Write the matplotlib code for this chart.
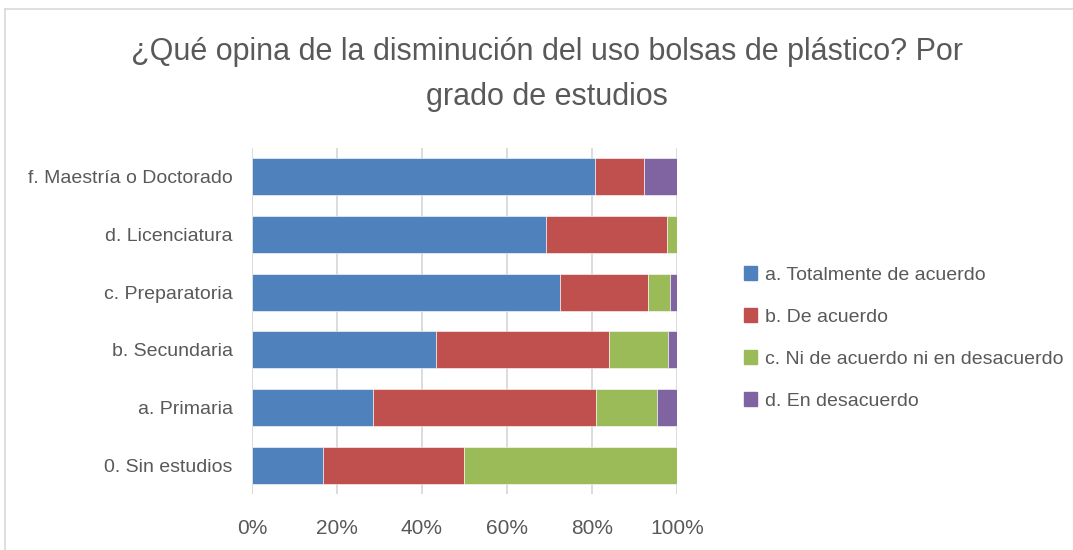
import matplotlib
matplotlib.use("Agg")
import matplotlib.pyplot as plt
from matplotlib.lines import Line2D

plt.rcParams["font.family"] = ["Liberation Sans Narrow", "Liberation Sans", "DejaVu Sans"]

# categories bottom to top, as drawn
categories = ["0. Sin estudios", "a. Primaria", "b. Secundaria",
              "c. Preparatoria", "d. Licenciatura", "f. Maestría o Doctorado"]

# percentages per answer, same order as categories
totalmente = [16.7, 28.5, 43.2, 72.4, 69.2, 80.8]
de_acuerdo = [33.3, 52.4, 40.9, 20.7, 28.4, 11.5]
ni_ni = [50.0, 14.5, 13.7, 5.3, 2.4, 0.0]
desacuerdo = [0.0, 4.6, 2.2, 1.6, 0.0, 7.7]

series_names = ["a. Totalmente de acuerdo", "b. De acuerdo",
                "c. Ni de acuerdo ni en desacuerdo", "d. En desacuerdo"]
colors = ["#4F81BD", "#C0504D", "#9BBB59", "#8064A2"]
text_color = "#595959"

fig = plt.figure(figsize=(10.73, 5.5), dpi=100)
ax = fig.add_axes([252 / 1073, 1 - 494 / 550, 425 / 1073, 346 / 550])

left = [0.0] * len(categories)
for name, vals, col in zip(series_names, [totalmente, de_acuerdo, ni_ni, desacuerdo], colors):
    ax.barh(categories, vals, left=left, height=0.64, color=col,
            edgecolor="white", linewidth=0.4, label=name, zorder=3)
    left = [a + b for a, b in zip(left, vals)]

ax.set_xlim(0, 100)
ax.set_ylim(-0.5, 5.5)
ax.set_xticks([0, 20, 40, 60, 80, 100])
ax.set_xticklabels(["0%", "20%", "40%", "60%", "80%", "100%"])
ax.grid(axis="x", color="#D9D9D9", linewidth=1.3, zorder=0)
for s in ax.spines.values():
    s.set_visible(False)
ax.tick_params(axis="both", length=0, colors=text_color, labelsize=14)
ax.tick_params(axis="x", pad=18, labelsize=15)
ax.tick_params(axis="y", pad=14)

handles = [plt.Rectangle((0, 0), 1, 1, color=c) for c in colors]
fig.legend(handles, series_names, loc="center left",
           bbox_to_anchor=(726 / 1073, 1 - 338 / 550), frameon=False,
           fontsize=14, labelcolor=text_color, handlelength=0.7,
           handleheight=0.7, handletextpad=0.4, labelspacing=1.25)

fig.text(547 / 1073, 1 - 52 / 550, "¿Qué opina de la disminución del uso bolsas de plástico? Por",
         ha="center", va="center", fontsize=22, color=text_color)
fig.text(547 / 1073, 1 - 97 / 550, "grado de estudios",
         ha="center", va="center", fontsize=22, color=text_color)

# chart border
fig.add_artist(Line2D([5 / 1073, 1], [1 - 9 / 550, 1 - 9 / 550], color="#D9D9D9", linewidth=1.2))
fig.add_artist(Line2D([5 / 1073, 5 / 1073], [0, 1 - 9 / 550], color="#D9D9D9", linewidth=1.2))

fig.savefig("out.png", dpi=100)
